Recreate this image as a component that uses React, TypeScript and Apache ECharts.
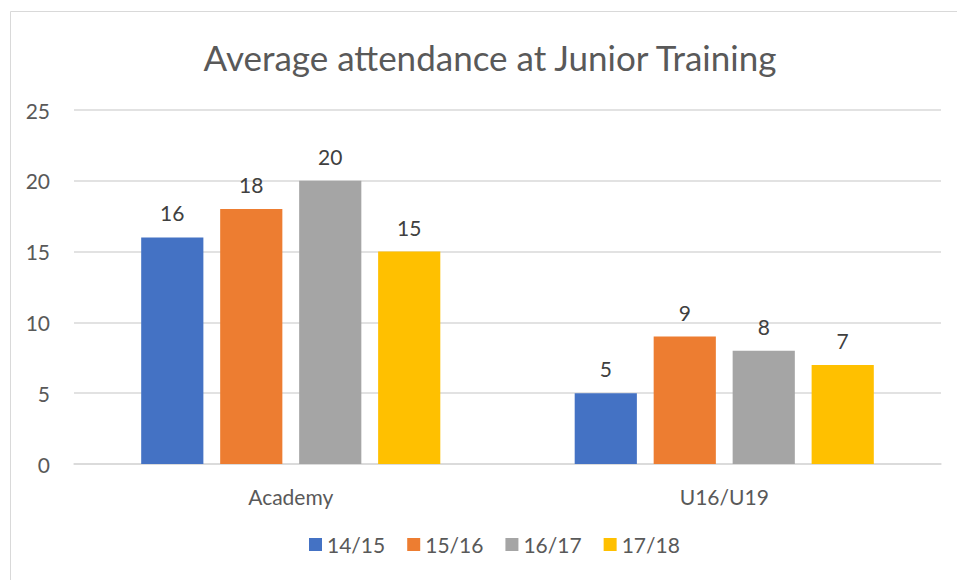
import React, { useEffect, useRef } from "react";
import * as echarts from "echarts";

const categories = ["Academy", "U16/U19"];
const seasons = ["14/15", "15/16", "16/17", "17/18"];
const values14_15 = [16, 5];
const values15_16 = [18, 9];
const values16_17 = [20, 8];
const values17_18 = [15, 7];
const colors = ["#4472C4", "#ED7D31", "#A5A5A5", "#FFC000"];
const FONT = "Lato, 'Open Sans', sans-serif";

export default function App() {
  const ref = useRef<HTMLDivElement>(null);
  useEffect(() => {
    if (!ref.current) return;
    const chart = echarts.init(ref.current, null, { renderer: "svg" });
    const seriesData = [values14_15, values15_16, values16_17, values17_18];
    chart.setOption({
      animation: false,
      backgroundColor: "#ffffff",
      textStyle: { fontFamily: FONT },
      title: {
        text: "Average attendance at Junior Training",
        left: 485,
        textAlign: "center",
        top: 34,
        textStyle: { fontFamily: FONT, fontSize: 35, fontWeight: 400, color: "#595959" },
      },
      graphic: [
        {
          type: "rect",
          shape: { x: 10.5, y: 11.5, width: 1000, height: 1000 },
          style: { fill: "none", stroke: "#d9d9d9", lineWidth: 1 },
          silent: true,
          z: -10,
        },
      ],
      legend: {
        bottom: 20,
        left: 304,
        itemWidth: 13,
        itemHeight: 13,
        itemGap: 22,
        icon: "rect",
        textStyle: { fontFamily: FONT, fontSize: 21, color: "#595959" },
        data: seasons,
      },
      grid: { left: 74, right: 16, top: 110, bottom: 116, containLabel: false },
      xAxis: {
        type: "category",
        data: categories,
        axisLine: { lineStyle: { color: "#d9d9d9", width: 1.5 } },
        axisTick: { show: false },
        axisLabel: { fontFamily: FONT, fontSize: 21, color: "#595959", margin: 22 },
      },
      yAxis: {
        type: "value",
        min: 0,
        max: 25,
        interval: 5,
        axisLine: { show: false },
        axisTick: { show: false },
        splitLine: { lineStyle: { color: "#d9d9d9", width: 1.5 } },
        axisLabel: { fontFamily: FONT, fontSize: 21, color: "#595959", margin: 24 },
      },
      series: seasons.map((s, i) => ({
        name: s,
        type: "bar",
        data: seriesData[i],
        itemStyle: { color: colors[i] },
        barGap: "27%",
        barCategoryGap: "31%",
        label: {
          show: true,
          position: "top",
          distance: 14,
          fontFamily: FONT,
          fontSize: 21,
          color: "#404040",
        },
      })),
    });
    return () => chart.dispose();
  }, []);
  return (
    <div
      ref={ref}
      style={{ position: "absolute", left: 0, top: 0, width: 957, height: 580 }}
    />
  );
}
